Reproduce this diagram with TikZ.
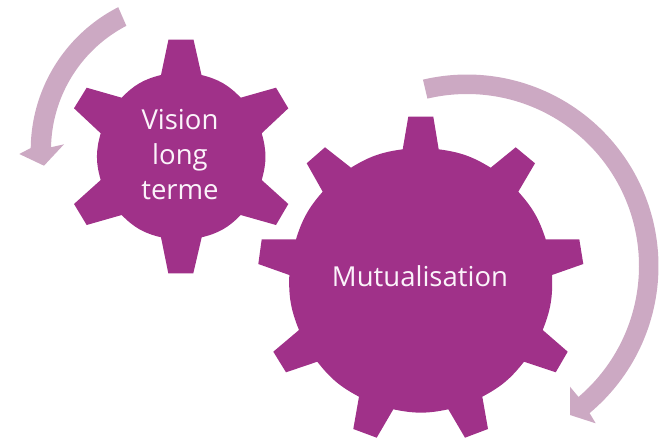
\documentclass[tikz,border=0pt]{standalone}
\usepackage{fontspec}
\setmainfont{Open Sans}
\definecolor{gearpurple}{HTML}{A03189}
\definecolor{arrowpink}{HTML}{CCA9C3}
\definecolor{geartext}{HTML}{FBF3FA}
\tikzset{
  gear/.style={fill=gearpurple,draw=none},
  turnarrow/.style={fill=arrowpink,draw=none},
  gearlabel/.style={text=geartext,align=center,inner sep=0pt},
  rim/.style={bend left=#1}
}
\begin{document}
\begin{tikzpicture}[x=1pt,y=-1pt]
\useasboundingbox (0,0) rectangle (669,439);
% turning arrows
\fill[turnarrow] plot[domain=243:180.7,samples=50] ({191+160.3*cos(\x)},{150+160.3*sin(\x)})
  -- (19.3,154) -- (44,165.7) -- (64,144.3) -- (50.7,147.3)
  -- plot[domain=181:242.5,samples=50] ({191+140*cos(\x)},{150+140*sin(\x)}) -- cycle;
\fill[turnarrow] plot[domain=-103.3:50.2,samples=100] ({467+191.5*cos(\x)},{266+191.5*sin(\x)})
  -- (595.7,423.3) -- (570,415) -- (570,386.7) -- (578.3,396.7)
  -- plot[domain=49.6:-103.3,samples=100] ({467+172*cos(\x)},{266+172*sin(\x)}) -- cycle;
% small gear
\fill[gear] (168.5,39.5) -- (193.5,39.5) -- (201.5,75)
  to[rim=16] (240.7,97.7) -- (276,87.7) -- (288.3,108.3) -- (261.7,133.3)
  to[rim=16] (261.7,180) -- (288.3,204) -- (276,225) -- (240.7,215)
  to[rim=16] (201.7,237.3) -- (193.3,273.3) -- (168.3,273.3) -- (161,237.3)
  to[rim=16] (121.7,215) -- (86.7,225) -- (74,204) -- (100.7,180)
  to[rim=16] (100.7,133.3) -- (74,108.3) -- (86.7,87.7) -- (121.7,97.7)
  to[rim=16] (161,75) -- cycle;
% large gear
\fill[gear] (408.3,116.7) -- (433.3,116.7) -- (438.7,149.3)
  to[rim=12] (490.7,167.7) -- (515.7,147.3) -- (535,163.3) -- (518.3,191.7)
  to[rim=12] (545.7,239.3) -- (579.3,239.3) -- (583.3,264) -- (552,275)
  to[rim=12] (542.7,330) -- (567.7,351.7) -- (555.7,372.3) -- (524,361.7)
  to[rim=12] (482.3,396.7) -- (488,429) -- (465,437.7) -- (448.3,409.3)
  to[rim=12] (393.3,409.3) -- (376.7,437.7) -- (353.3,429) -- (359,396.7)
  to[rim=12] (317.3,361.7) -- (286,372.3) -- (273.3,351.7) -- (299,330)
  to[rim=12] (289.3,275) -- (258.3,264) -- (261.7,239.3) -- (296,239.3)
  to[rim=12] (322.7,191.7) -- (306.7,163.3) -- (325,147.3) -- (351,167.7)
  to[rim=12] (402.7,149.3) -- cycle;
% labels
\node[gearlabel,font=\fontsize{27.5}{35}\selectfont] (vision) at (180,155) {Vision\\long\\terme};
\node[gearlabel,font=\fontsize{27.5}{30}\selectfont] (mutual) at (420,276) {Mutualisation};
\end{tikzpicture}
\end{document}
